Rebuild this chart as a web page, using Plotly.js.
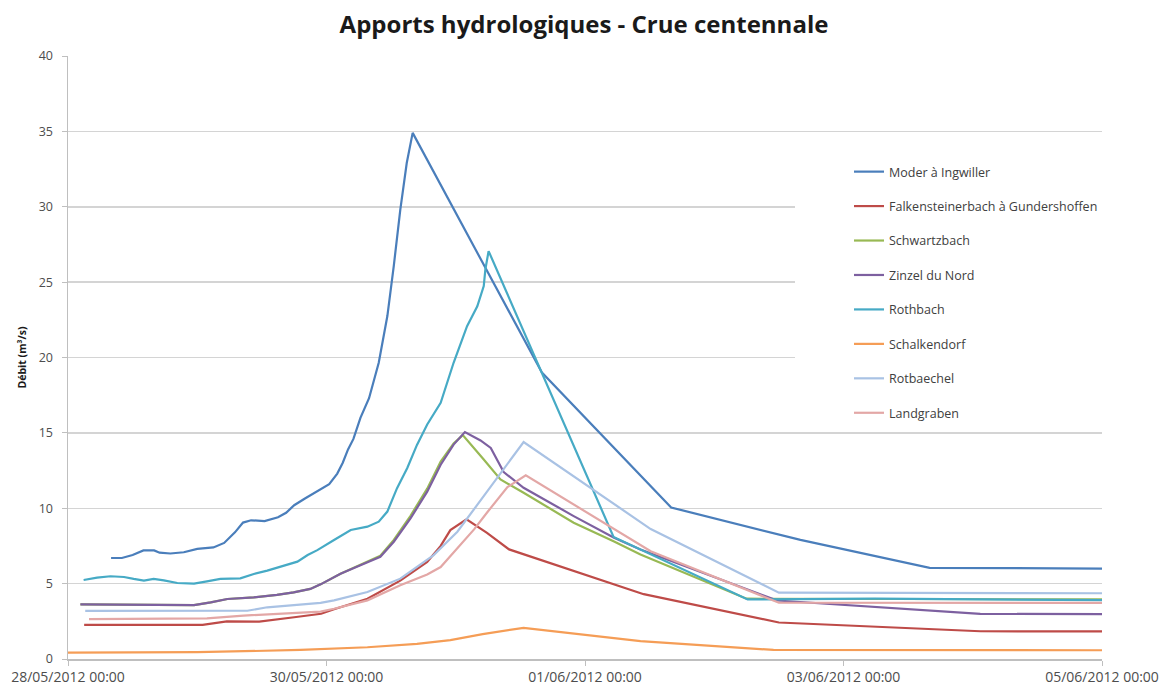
<!DOCTYPE html>
<html>
<head>
<meta charset="utf-8">
<script src="https://cdn.plot.ly/plotly-3.0.1.min.js"></script>
<style>html,body{margin:0;padding:0;background:#fff;}#chart{width:1168px;height:688px;}</style>
</head>
<body>
<div id="chart"></div>
<script>
// Series names (legend order)
const seriesNames = [
  "Moder à Ingwiller",
  "Falkensteinerbach à Gundershoffen",
  "Schwartzbach",
  "Zinzel du Nord",
  "Rothbach",
  "Schalkendorf",
  "Rotbaechel",
  "Landgraben"
];

// Time of each value, in hours after 28/05/2012 00:00, and discharge (m³/s)
const moderHours = [8,10,12,14,16,17,19,21.5,24,27,29,31,32.5,34,36.5,39,40.5,42,44,45.5,47,48.5,50,51,52,53,54.3,55.9,57.7,59.3,60.5,61.7,62.9,64,88,112,136,160,192];
const moderFlow  = [6.7,6.7,6.9,7.2,7.2,7.05,7.0,7.08,7.3,7.4,7.7,8.4,9.05,9.2,9.15,9.4,9.7,10.2,10.65,10.95,11.3,11.6,12.3,13.0,13.9,14.6,16.0,17.3,19.65,22.75,26.1,29.8,32.9,34.9,19.0,10.05,7.9,6.05,6.0];

const falkHours = [3,25,29.5,35.5,42,47,49.4,55.6,61.7,66.7,69.2,71,74,77.8,81.9,106.9,132,169.4,192];
const falkFlow  = [2.26,2.26,2.5,2.48,2.77,3.0,3.3,4.0,5.2,6.44,7.5,8.55,9.26,8.37,7.27,4.3,2.42,1.84,1.83];

const schwHours = [2.3,23.4,26.5,29.6,34.5,38.8,41.9,45,46.9,50.6,54.3,58,60.5,63.6,66.7,69.2,71.6,73.3,77.2,80.3,84.6,93.9,101.4,106.3,126,192];
const schwFlow  = [3.62,3.58,3.76,3.98,4.09,4.25,4.42,4.65,4.95,5.65,6.25,6.85,7.9,9.5,11.3,13.1,14.3,14.85,13.24,11.91,11.03,9.04,7.8,6.93,4.0,3.95];

const zinzHours = [2.3,23.4,26.5,29.6,34.5,38.8,41.9,45,46.9,50.6,54.3,58,60.5,63.6,66.7,69.2,71.6,73.7,76.6,78.5,80.9,84.6,93.9,101.4,106.3,131.7,169.4,192];
const zinzFlow  = [3.63,3.58,3.76,3.98,4.09,4.25,4.42,4.65,4.95,5.65,6.22,6.78,7.78,9.33,11.1,12.89,14.22,15.05,14.5,14.0,12.4,11.36,9.48,8.04,7.26,3.88,2.99,2.98];

const rothHours = [2.9,5.4,7.9,10.4,12.2,14.1,15.9,17.8,20.3,23.4,25.8,28.3,32,34.5,37,39.5,42.6,44.5,46.3,49.4,52.5,55.6,57.7,59.3,61.1,63,64.8,66.7,69.2,71.6,74.1,76,77.2,77.5,78.1,101.3,126.2,150,192];
const rothFlow  = [5.24,5.4,5.49,5.44,5.31,5.2,5.31,5.22,5.04,5.0,5.15,5.31,5.35,5.64,5.86,6.15,6.46,6.9,7.22,7.89,8.56,8.78,9.11,9.78,11.33,12.67,14.2,15.56,17.0,19.65,22.08,23.4,24.74,25.85,27.06,8.1,3.95,4.0,3.9];

const schaHours = [0,24,43.2,55.6,64.8,71,77,84.6,106.3,131,192];
const schaFlow  = [0.42,0.45,0.6,0.78,1.0,1.25,1.65,2.07,1.18,0.6,0.58];

const rotbHours = [3.2,33.3,37,41.9,46.9,49.4,55.6,61.7,67.9,72.3,76,79.1,84.6,108.2,132,192];
const rotbFlow  = [3.19,3.2,3.43,3.58,3.72,3.89,4.44,5.33,6.89,8.44,10.22,11.78,14.39,8.62,4.4,4.36];

const landHours = [3.9,25.8,32.6,38.8,46.9,49.4,55.6,61.7,66.7,69.2,72,75.4,78,81.6,85,108.2,132,192];
const landFlow  = [2.65,2.7,2.88,3.0,3.14,3.33,3.89,4.89,5.6,6.1,7.2,8.6,9.8,11.4,12.18,7.15,3.73,3.72];

// x-axis range / ticks
const startDate = "2012-05-28 00:00";
const endDate = "2012-06-05 00:00";

const colors = ["#4A7EBB","#BE4B48","#98B954","#7D60A0","#46AAC5","#F59D56","#A9C2E4","#E3A7A6"];

function hoursToDate(h) {
  const d = new Date(Date.UTC(2012, 4, 28) + Math.round(h * 60) * 60000);
  const p = n => String(n).padStart(2, "0");
  return d.getUTCFullYear() + "-" + p(d.getUTCMonth() + 1) + "-" + p(d.getUTCDate()) + " " + p(d.getUTCHours()) + ":" + p(d.getUTCMinutes());
}

const hoursList = [moderHours, falkHours, schwHours, zinzHours, rothHours, schaHours, rotbHours, landHours];
const flowList = [moderFlow, falkFlow, schwFlow, zinzFlow, rothFlow, schaFlow, rotbFlow, landFlow];

const traces = seriesNames.map((name, i) => ({
  type: "scatter",
  mode: "lines",
  name: name,
  legendgroup: "g" + i,
  x: hoursList[i].map(hoursToDate),
  y: flowList[i],
  line: {color: colors[i], width: 2.2},
  hoverinfo: "x+y+name"
}));

const layout = {
  width: 1168,
  height: 688,
  paper_bgcolor: "#ffffff",
  plot_bgcolor: "#ffffff",
  margin: {l: 68, r: 66, t: 56, b: 29},
  title: {
    text: "<b>Apports hydrologiques - Crue centennale</b>",
    font: {family: "'Open Sans', sans-serif", size: 24, color: "#1a1a1a"},
    x: 0.5, xref: "container", xanchor: "center",
    y: 1 - 25 / 688, yref: "container", yanchor: "middle"
  },
  xaxis: {
    type: "date",
    range: [startDate, endDate],
    tick0: startDate,
    dtick: 2 * 86400000,
    tickformat: "%d/%m/%Y %H:%M",
    showgrid: false,
    showline: true,
    linecolor: "#BFBFBF",
    linewidth: 1.5,
    ticks: "outside",
    ticklen: 5,
    tickcolor: "#BFBFBF",
    tickfont: {family: "'Open Sans', sans-serif", size: 14, color: "#4d4d4d"},
    zeroline: false,
    fixedrange: true
  },
  yaxis: {
    range: [0, 40],
    dtick: 5,
    showgrid: true,
    gridcolor: "#D4D4D4",
    gridwidth: 1.5,
    showline: true,
    linecolor: "#BFBFBF",
    linewidth: 1.5,
    ticks: "outside",
    ticklen: 5,
    tickcolor: "#BFBFBF",
    ticklabelstandoff: 6,
    tickfont: {family: "'Open Sans', sans-serif", size: 12.5, color: "#4d4d4d"},
    zeroline: false,
    title: {
      text: "<b>Débit (m³/s)</b>",
      font: {family: "'Open Sans', sans-serif", size: 10.5, color: "#1a1a1a"},
      standoff: 10
    },
    fixedrange: true
  },
  shapes: [{
    type: "rect", layer: "above",
    xref: "paper", yref: "y",
    x0: (795 - 68) / (1168 - 68 - 66), x1: 1.0,
    y0: 16.5, y1: 33.5,
    fillcolor: "#ffffff", line: {width: 0}
  }],
  legend: {
    x: (849 - 68) / (1168 - 68 - 66),
    xanchor: "left",
    y: 1 - (157 - 56) / (688 - 56 - 29),
    yanchor: "top",
    bgcolor: "rgba(255,255,255,0)",
    font: {family: "'Open Sans', sans-serif", size: 12.5, color: "#404040"},
    tracegroupgap: 15.2,
    traceorder: "grouped"
  },
  showlegend: true
};

Plotly.newPlot("chart", traces, layout, {staticPlot: true, displayModeBar: false});
</script>
</body>
</html>
